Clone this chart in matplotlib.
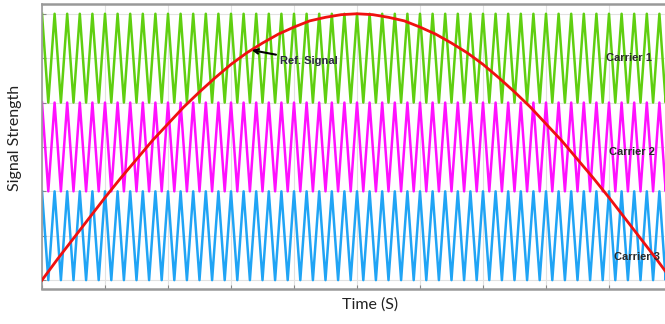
import matplotlib
matplotlib.use("Agg")
import matplotlib.pyplot as plt
import numpy as np

# reference signal (time as fraction of the half period)
ref_time = [0.000, 0.025, 0.050, 0.075, 0.100, 0.125, 0.150, 0.175, 0.200, 0.225,
            0.250, 0.275, 0.300, 0.325, 0.350, 0.375, 0.400, 0.425, 0.450, 0.475,
            0.500, 0.525, 0.550, 0.575, 0.600, 0.625, 0.650, 0.675, 0.700, 0.725,
            0.750, 0.775, 0.800, 0.825, 0.850, 0.875, 0.900, 0.925, 0.950, 0.975,
            1.000]
ref_level = [0.00, 0.24, 0.47, 0.70, 0.93, 1.15, 1.36, 1.57, 1.76, 1.95,
             2.12, 2.28, 2.43, 2.56, 2.67, 2.77, 2.85, 2.92, 2.96, 2.99,
             3.00, 2.99, 2.96, 2.92, 2.85, 2.77, 2.67, 2.56, 2.43, 2.28,
             2.12, 1.95, 1.76, 1.57, 1.36, 1.15, 0.93, 0.70, 0.47, 0.24,
             0.00]

# carrier bands (low, high) and number of triangle cycles across the plot
carrier_names = ["Carrier 1", "Carrier 2", "Carrier 3"]
carrier_low = [2.0, 1.0, 0.0]
carrier_high = [3.0, 2.0, 1.0]
carrier_colors = ["#5fcf10", "#ff10ff", "#20a4f5"]
n_cycles = 50

fig = plt.figure(figsize=(6.65, 3.24), dpi=100)
ax = fig.add_axes([42 / 665, 35 / 324, 630 / 665, 285 / 324])

# triangle vertices: peak at start of each cycle, trough at mid cycle
vert_t = np.linspace(0, 1, 2 * n_cycles + 1)
for name, lo, hi, col in zip(carrier_names, carrier_low, carrier_high, carrier_colors):
    vert_y = np.where(np.arange(len(vert_t)) % 2 == 0, hi, lo)
    ax.plot(vert_t, vert_y, color=col, lw=1.8, zorder=2)

ax.plot(ref_time, ref_level, color="#f01010", lw=2, zorder=3)

ax.annotate("Ref. Signal", xy=(0.333, 2.59), xytext=(0.378, 2.47),
            fontsize=8, fontweight="bold", color="#2a2a40", family="Liberation Sans",
            va="center", ha="left", zorder=5,
            arrowprops=dict(arrowstyle="->", color="black", lw=1.5,
                            shrinkA=1, shrinkB=0))

label_pos = [(0.895, 2.50), (0.900, 1.44), (0.908, 0.26)]
for name, (tx, ty) in zip(carrier_names, label_pos):
    ax.text(tx, ty, name, fontsize=8, fontweight="bold", color="#2a2a2a",
            family="Liberation Sans", va="center", ha="left", zorder=4)

ax.set_xlim(0, 1)
ax.set_ylim(-0.10, 3.11)
ax.set_xticks(np.arange(0, 1.01, 0.1))
ax.set_yticks(np.arange(0, 3.01, 0.5))
ax.set_xticklabels([])
ax.set_yticklabels([])
ax.tick_params(length=3, color="#888888", direction="in")
ax.grid(True, color="#e2e2e2", lw=0.8, zorder=0)
for side in ["left", "bottom", "top", "right"]:
    ax.spines[side].set_color("#999999")
ax.spines["bottom"].set_linewidth(1.8)
ax.spines["top"].set_linewidth(1.8)
ax.spines["left"].set_linewidth(1.2)

fig.text(15 / 665, 1 - 138 / 324, "Signal Strength", rotation=90, fontsize=11.5,
         family="Lato", ha="center", va="center", color="#222222")
fig.text(370 / 665, 1 - 305 / 324, "Time (S)", fontsize=11.5,
         family="Lato", ha="center", va="center", color="#222222")

fig.savefig("out.png", dpi=100)
